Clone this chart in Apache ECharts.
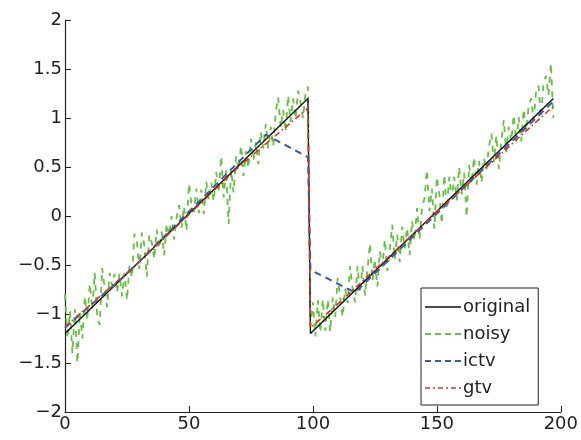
<!DOCTYPE html>
<html><head><meta charset="utf-8">
<script src="https://cdn.jsdelivr.net/npm/echarts@6/dist/echarts.min.js"></script>
<style>html,body{margin:0;padding:0;background:#fff}#c{width:581px;height:440px}</style>
</head><body><div id="c"></div>
<script>
// Data
var originalPts = [[0,-1.2],[98,1.2],[99,-1.2],[197,1.2]];
var noisyX0 = 0;
var noisyY = [
-0.80,-1.25,-0.97,-1.40,-0.95,-1.50,-0.98,-1.25,-0.82,-1.06,
-0.69,-0.96,-0.58,-1.03,-1.11,-0.53,-0.73,-0.93,-0.58,-0.71,
-0.59,-0.78,-0.59,-0.82,-0.58,-0.86,-0.50,-0.63,-0.18,-0.27,
-0.54,-0.17,-0.30,-0.62,-0.19,-0.27,-0.44,-0.14,-0.33,-0.16,
-0.40,-0.08,-0.20,0.00,-0.24,-0.02,0.11,-0.12,0.10,-0.15,
0.33,0.12,0.04,0.28,0.03,0.27,0.02,0.35,0.16,0.34,
0.15,0.45,0.24,0.61,0.19,0.47,-0.08,0.47,0.24,0.61,
0.47,0.72,0.41,0.66,0.49,0.79,0.57,0.75,0.53,0.86,
0.69,0.94,0.69,0.91,0.71,1.06,1.21,0.90,1.08,0.86,
1.23,0.96,1.20,0.99,1.28,1.16,1.00,1.25,1.32,
-1.13,-0.88,-1.23,-0.86,-1.19,-0.85,-1.17,-0.85,-1.18,-0.83,
-1.03,-0.63,-0.83,-1.03,-0.74,-0.89,-0.51,-0.74,-0.88,-0.51,
-0.79,-0.51,-0.81,-0.55,-0.28,-0.66,-0.44,-0.72,-0.36,-0.52,
-0.24,-0.56,-0.34,-0.09,-0.44,-0.19,-0.47,-0.11,-0.33,-0.12,
-0.40,-0.05,-0.25,0.08,-0.24,0.08,0.18,0.47,0.05,0.28,
-0.13,0.40,0.22,-0.08,0.42,0.07,0.40,0.17,0.40,0.16,
0.50,0.22,0.44,-0.01,0.52,0.33,0.60,0.32,0.56,0.34,
0.59,0.47,0.71,0.84,0.55,0.82,0.48,0.76,0.98,0.65,
0.91,0.76,1.03,0.76,1.01,0.76,1.09,0.87,1.11,1.20,
0.98,1.26,1.33,1.00,1.35,1.43,1.23,1.56,1.00
];
var ictvPts = [[0,-1.14],[25,-0.59],[81,0.83],[98,0.60],[99,-0.55],[117,-0.78],[197,1.17]];
var gtvPts = [[0,-1.13],[30,-0.47],[70,0.50],[98,1.10],[99,-1.14],[110,-0.90],[150,0.04],[197,1.12]];
var legendNames = ['original','noisy','ictv','gtv'];

var noisyPts = noisyY.map(function(v,i){return [noisyX0+i, v];});
var fmt = function(v){return String(v).replace('-', '\u2212');};
var font = 'DejaVu Sans';
var C = {original:'#111111', noisy:'#62c240', ictv:'#3d5aa8', gtv:'#e0301e'};
var icons = {
  original:'path://M0,0H36V1.6H0Z',
  noisy:'path://M0,0h6v2h-6zM10,0h6v2h-6zM20,0h6v2h-6zM30,0h6v2h-6z',
  ictv:'path://M0,0h6v2h-6zM10,0h6v2h-6zM20,0h6v2h-6zM30,0h6v2h-6z',
  gtv:'path://M0,0h5v1.6h-5zM8,0h2v1.6h-2zM13,0h5v1.6h-5zM21,0h2v1.6h-2zM26,0h5v1.6h-5zM34,0h2v1.6h-2z'
};
var chart = echarts.init(document.getElementById('c'));
chart.setOption({
  animation:false,
  backgroundColor:'#fff',
  grid:{left:65,right:20,top:20,bottom:28,containLabel:false},
  xAxis:{type:'value',min:0,max:200,interval:50,
    axisLine:{show:true,onZero:false,lineStyle:{color:'#222',width:1.2}},
    axisTick:{show:true,inside:true,length:6,lineStyle:{color:'#222'}},
    axisLabel:{color:'#222',fontFamily:font,fontSize:18,margin:3,formatter:fmt},
    splitLine:{show:false}},
  yAxis:{type:'value',min:-2,max:2,interval:0.5,
    axisLine:{show:true,onZero:false,lineStyle:{color:'#222',width:1.2}},
    axisTick:{show:true,inside:true,length:6,lineStyle:{color:'#222'}},
    axisLabel:{color:'#222',fontFamily:font,fontSize:18,margin:3,formatter:fmt},
    splitLine:{show:false}},
  legend:{orient:'vertical',left:421,top:288,
    backgroundColor:'#fff',borderColor:'#222',borderWidth:1,
    padding:[10,8,8,4],itemGap:9,itemWidth:36,itemHeight:14,
    textStyle:{fontFamily:font,fontSize:18,color:'#222',padding:[0,0,0,-3]},
    data:legendNames.map(function(n){return {name:n,icon:icons[n],itemStyle:{color:C[n]}};})},
  series:[
    {name:'noisy',type:'line',data:noisyPts,showSymbol:false,symbol:'none',
      lineStyle:{color:C.noisy,width:1.8,type:[6,6]},itemStyle:{color:C.noisy},z:2},
    {name:'original',type:'line',data:originalPts,showSymbol:false,symbol:'none',
      lineStyle:{color:C.original,width:1.4,type:'solid'},itemStyle:{color:C.original},z:3},
    {name:'ictv',type:'line',data:ictvPts,showSymbol:false,symbol:'none',
      lineStyle:{color:C.ictv,width:2,type:[7,5]},itemStyle:{color:C.ictv},z:4},
    {name:'gtv',type:'line',data:gtvPts,showSymbol:false,symbol:'none',
      lineStyle:{color:C.gtv,width:1.6,type:[6,3,1.5,3]},itemStyle:{color:C.gtv},z:5}
  ]
});
</script></body></html>
